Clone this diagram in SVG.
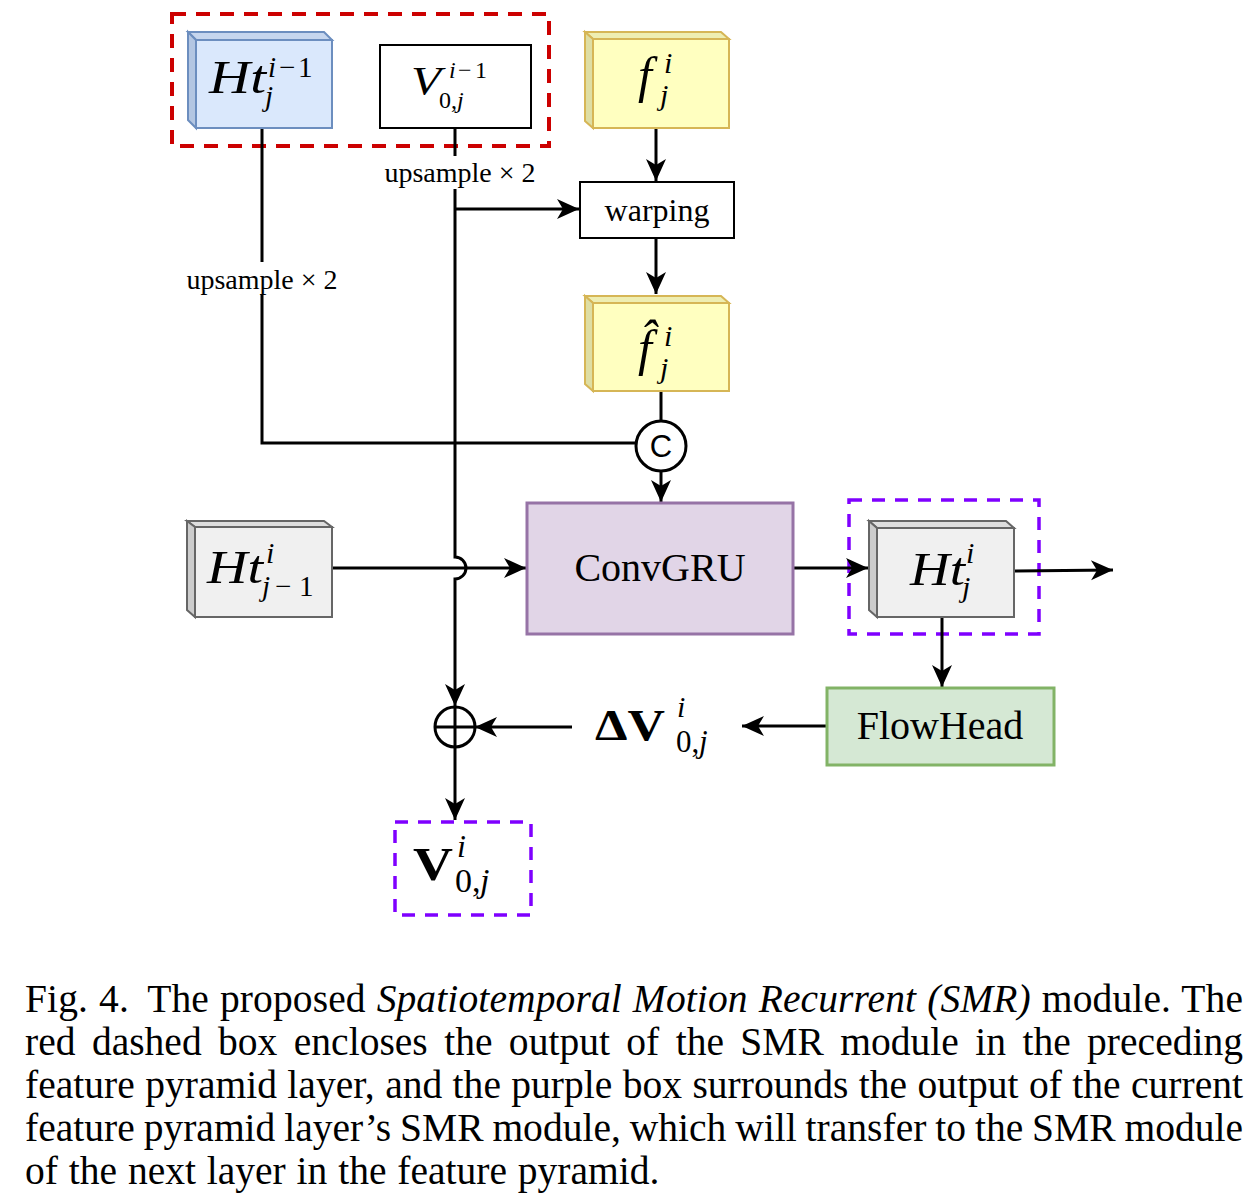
<svg xmlns="http://www.w3.org/2000/svg" width="1258" height="1204" viewBox="0 0 1258 1204">
<defs>
<marker id="arr" markerUnits="userSpaceOnUse" markerWidth="26" markerHeight="24" viewBox="-24 -12 26 24" refX="0" refY="0" orient="auto" overflow="visible">
<path d="M0,0 L-22,-10 L-16,0 L-22,10 Z" fill="#000"/>
</marker>
<style>
.ln{fill:none;stroke:#000;stroke-width:3}
.ar{marker-end:url(#arr)}
.t{font-family:"Liberation Serif","Times New Roman",serif;fill:#000;stroke:none}
.it{font-style:italic}
.up{font-style:normal}
.b{font-weight:bold}
.frameRed{fill:none;stroke:#cc0000;stroke-width:4;stroke-dasharray:14 10}
.framePur{fill:none;stroke:#7f00ff;stroke-width:3.5;stroke-dasharray:13 10}
.blue .f{fill:#dae8fc}.blue .tp{fill:#c6d6ee}.blue .sd{fill:#b3c6e2}
.blue rect,.blue polygon{stroke:#6c8ebf;stroke-width:2}
.yel .f{fill:#ffffc0}.yel .tp{fill:#eeeeb2}.yel .sd{fill:#dedea4}
.yel rect,.yel polygon{stroke:#d6b656;stroke-width:2}
.gry .f{fill:#f0f0f0}.gry .tp{fill:#dedede}.gry .sd{fill:#cccccc}
.gry rect,.gry polygon{stroke:#666666;stroke-width:2}
.plain{fill:#fff;stroke:#000;stroke-width:2}
.cap{font-family:"Liberation Serif","Times New Roman",serif;font-size:39.5px;fill:#000}
</style>
</defs>
<rect width="1258" height="1204" fill="#fff"/>

<g id="frames">
<rect class="frameRed" x="172" y="14" width="377" height="132"/>
<rect class="framePur" x="849" y="500" width="190" height="134"/>
<rect class="framePur" x="395" y="822" width="136" height="93"/>
</g>

<g id="connectors">
<path class="ln" d="M262,128 V443 H636"/>
<path class="ln ar" d="M455,128 V557 A11,11 0 0 1 455,579 V706"/>
<path class="ln ar" d="M455,209 H579"/>
<path class="ln ar" d="M656,128 V181"/>
<path class="ln ar" d="M656,238 V294"/>
<path class="ln" d="M661,391 V421"/>
<path class="ln ar" d="M661,471 V502"/>
<path class="ln ar" d="M332,568 H526"/>
<path class="ln ar" d="M793,568 H868"/>
<path class="ln ar" d="M1014,571 L1113,570"/>
<path class="ln ar" d="M942,617 V687"/>
<path class="ln ar" d="M827,726 H742"/>
<path class="ln ar" d="M572,727 H475"/>
<path class="ln ar" d="M455,747 V820"/>
</g>

<g id="edge-labels">
<rect x="182" y="262" width="160" height="32" fill="#fff"/>
<text class="t" x="262" y="289" font-size="28" text-anchor="middle">upsample × 2</text>
<rect x="380" y="156" width="162" height="33" fill="#fff"/>
<text class="t" x="460" y="182" font-size="28" text-anchor="middle">upsample × 2</text>
</g>

<g id="node-Ht-prev-layer" class="blue">
<polygon class="tp" points="188,32 324,32 332,40 196,40"/>
<polygon class="sd" points="188,32 196,40 196,128 188,120"/>
<rect class="f" x="196" y="40" width="136" height="88"/>
<text class="t it" font-size="29"><tspan x="209" y="93" font-size="46" textLength="57" lengthAdjust="spacingAndGlyphs">Ht</tspan><tspan x="268" y="77">i</tspan><tspan class="up" x="279" y="77">−</tspan><tspan class="up" x="298" y="77">1</tspan><tspan x="265" y="106">j</tspan></text>
</g>

<g id="node-V-prev-layer">
<rect class="plain" x="380" y="45" width="151" height="83"/>
<text class="t it" font-size="24"><tspan x="411" y="94" font-size="40" textLength="30" lengthAdjust="spacingAndGlyphs">V</tspan><tspan x="449" y="78">i</tspan><tspan class="up" x="458" y="78">−</tspan><tspan class="up" x="475" y="78">1</tspan><tspan class="up" x="439" y="108">0,</tspan><tspan x="457" y="108">j</tspan></text>
</g>

<g id="node-f" class="yel">
<polygon class="tp" points="585,32 721,32 729,39 593,39"/>
<polygon class="sd" points="585,32 593,39 593,128 585,121"/>
<rect class="f" x="593" y="39" width="136" height="89"/>
<text class="t it" font-size="30"><tspan x="638" y="92" font-size="50">f</tspan><tspan x="664" y="73">i</tspan><tspan x="660" y="105">j</tspan></text>
</g>

<g id="node-warping">
<rect class="plain" x="580" y="182" width="154" height="56"/>
<text class="t" x="657" y="221" font-size="32" text-anchor="middle">warping</text>
</g>

<g id="node-fhat" class="yel">
<polygon class="tp" points="585,296 721,296 729,303 593,303"/>
<polygon class="sd" points="585,296 593,303 593,391 585,384"/>
<rect class="f" x="593" y="303" width="136" height="88"/>
<text class="t it" font-size="30"><tspan x="638" y="365" font-size="50">f̂</tspan><tspan x="664" y="346">i</tspan><tspan x="660" y="378">j</tspan></text>
</g>

<g id="node-concat">
<circle cx="661" cy="446" r="25" fill="#fff" stroke="#000" stroke-width="3"/>
<text x="661" y="457" font-family="Liberation Sans, Arial, sans-serif" font-size="31" text-anchor="middle">C</text>
</g>

<g id="node-Ht-prev" class="gry">
<polygon class="tp" points="187,521 324,521 332,527 195,527"/>
<polygon class="sd" points="187,521 195,527 195,617 187,610"/>
<rect class="f" x="195" y="527" width="137" height="90"/>
<text class="t it" font-size="29"><tspan x="207" y="583" font-size="46" textLength="56" lengthAdjust="spacingAndGlyphs">Ht</tspan><tspan x="266" y="563" font-size="30">i</tspan><tspan x="262" y="596">j</tspan><tspan class="up" x="275" y="596">−</tspan><tspan class="up" x="299" y="596">1</tspan></text>
</g>

<g id="node-ConvGRU">
<rect x="527" y="503" width="266" height="131" fill="#e1d5e7" stroke="#9673a6" stroke-width="3"/>
<text class="t" x="660" y="581" font-size="40" text-anchor="middle">ConvGRU</text>
</g>

<g id="node-Ht" class="gry">
<polygon class="tp" points="869,521 1006,521 1014,528 877,528"/>
<polygon class="sd" points="869,521 877,528 877,617 869,610"/>
<rect class="f" x="877" y="528" width="137" height="89"/>
<text class="t it" font-size="30"><tspan x="910" y="585" font-size="46" textLength="55" lengthAdjust="spacingAndGlyphs">Ht</tspan><tspan x="966" y="563">i</tspan><tspan x="962" y="597">j</tspan></text>
</g>

<g id="node-FlowHead">
<rect x="827" y="688" width="227" height="77" fill="#d5e8d4" stroke="#82b366" stroke-width="3"/>
<text class="t" x="940" y="739" font-size="40" text-anchor="middle">FlowHead</text>
</g>

<g id="node-deltaV">
<text class="t" font-size="31"><tspan class="b" x="595" y="740" font-size="44" textLength="70" lengthAdjust="spacingAndGlyphs">ΔV</tspan><tspan class="it" x="677" y="717" font-size="30">i</tspan><tspan x="676" y="752">0,</tspan><tspan class="it" x="699" y="752">j</tspan></text>
</g>

<g id="node-add">
<circle cx="455" cy="727" r="20" fill="#fff" stroke="#000" stroke-width="3"/>
<path d="M435,727 H475 M455,707 V747" stroke="#000" stroke-width="3" fill="none"/>
</g>

<g id="node-V">
<text class="t" font-size="34"><tspan class="b" x="413" y="880" font-size="46" textLength="40" lengthAdjust="spacingAndGlyphs">V</tspan><tspan class="it" x="457" y="857" font-size="32">i</tspan><tspan x="455" y="892">0,</tspan><tspan class="it" x="480" y="892">j</tspan></text>
</g>

<g id="caption">
<text class="cap" x="25" y="1012" textLength="1218" lengthAdjust="spacing" word-spacing="1">Fig. 4. <tspan dx="8">The proposed </tspan><tspan font-style="italic">Spatiotemporal Motion Recurrent (SMR)</tspan> module. The</text>
<text class="cap" x="25" y="1055" textLength="1218" lengthAdjust="spacing" word-spacing="6.5">red dashed box encloses the output of the SMR module in the preceding</text>
<text class="cap" x="25" y="1098" textLength="1218" lengthAdjust="spacing" word-spacing="0.5">feature pyramid layer, and the purple box surrounds the output of the current</text>
<text class="cap" x="25" y="1141" textLength="1218" lengthAdjust="spacing" word-spacing="-1">feature pyramid layer’s SMR module, which will transfer to the SMR module</text>
<text class="cap" x="25" y="1184" word-spacing="1">of the next layer in the feature pyramid.</text>
</g>
</svg>
